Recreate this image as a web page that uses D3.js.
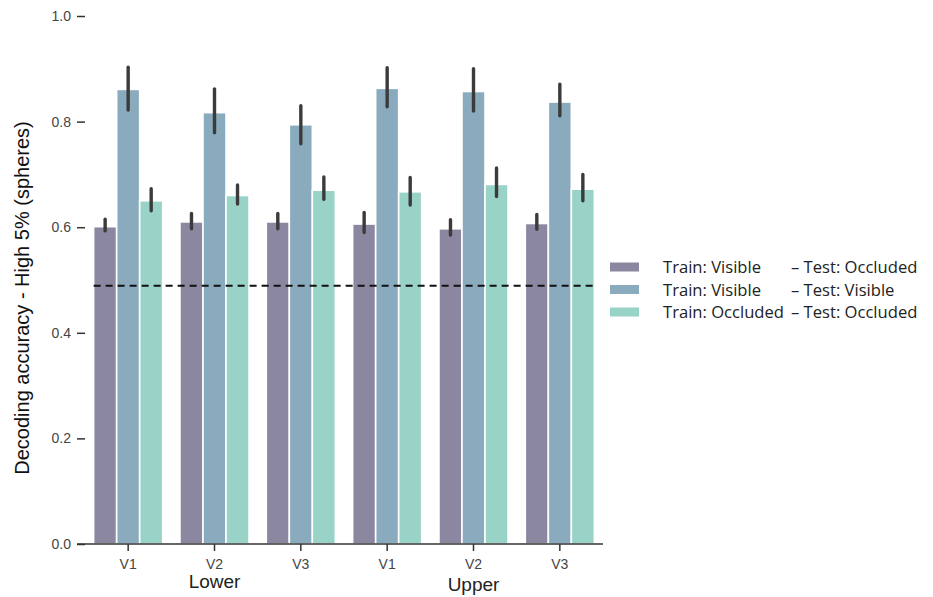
<!DOCTYPE html>
<html>
<head>
<meta charset="utf-8">
<script src="https://cdn.jsdelivr.net/npm/d3@7"></script>
<style>
  body { margin: 0; background: #fff; }
  svg { display: block; }
</style>
</head>
<body>
<svg id="chart" width="933" height="597"></svg>
<script>
// Regions of interest within each visual-field half
const areas = ["V1", "V2", "V3", "V1", "V2", "V3"];
const halves = ["Lower", "Upper"];
const trainLabels = ["Train: Visible", "Train: Visible", "Train: Occluded"];
const testLabels = ["– Test: Occluded", "– Test: Visible", "– Test: Occluded"];
const colors = ["#8b87a0", "#8aabbe", "#99d2c7"];

// Mean decoding accuracy per condition, one value per area (Lower V1..V3, Upper V1..V3)
const visOcc   = [0.601, 0.610, 0.610, 0.606, 0.597, 0.607];
const visVis   = [0.861, 0.817, 0.794, 0.863, 0.857, 0.837];
const occOcc   = [0.650, 0.660, 0.670, 0.667, 0.681, 0.672];
// 95% confidence intervals (low, high)
const visOccLo = [0.593, 0.597, 0.597, 0.590, 0.585, 0.596];
const visOccHi = [0.615, 0.626, 0.626, 0.628, 0.614, 0.624];
const visVisLo = [0.822, 0.779, 0.758, 0.828, 0.820, 0.811];
const visVisHi = [0.903, 0.862, 0.830, 0.902, 0.900, 0.871];
const occOccLo = [0.631, 0.644, 0.653, 0.642, 0.658, 0.650];
const occOccHi = [0.673, 0.680, 0.695, 0.694, 0.712, 0.700];
const chance = 0.489;
const yTicks = [0.0, 0.2, 0.4, 0.6, 0.8, 1.0];

const means = [visOcc, visVis, occOcc];
const lows = [visOccLo, visVisLo, occOccLo];
const highs = [visOccHi, visVisHi, occOccHi];

const svg = d3.select("#chart");
const plotLeft = 85, plotRight = 603, plotTop = 16, plotBottom = 544;
const sans = "Liberation Sans, Arial, sans-serif";

const x = d3.scaleBand().domain(d3.range(areas.length)).range([plotLeft, plotRight]);
const inner = d3.scaleBand().domain(d3.range(means.length))
  .range([x.bandwidth() * 0.1, x.bandwidth() * 0.9]);
const y = d3.scaleLinear().domain([0, 1]).range([plotBottom, plotTop]);

// Bars
const rows = [];
means.forEach((arr, c) => arr.forEach((v, i) => rows.push({ c, i, v, lo: lows[c][i], hi: highs[c][i] })));

svg.append("g").selectAll("rect").data(rows).join("rect")
  .attr("x", d => x(d.i) + inner(d.c))
  .attr("y", d => y(d.v))
  .attr("width", inner.bandwidth())
  .attr("height", d => y(0) - y(d.v))
  .attr("fill", d => colors[d.c])
  .attr("stroke", "#fff")
  .attr("stroke-width", 1.6);

// Error bars
svg.append("g").selectAll("line").data(rows).join("line")
  .attr("x1", d => x(d.i) + inner(d.c) + inner.bandwidth() / 2)
  .attr("x2", d => x(d.i) + inner(d.c) + inner.bandwidth() / 2)
  .attr("y1", d => y(d.lo))
  .attr("y2", d => y(d.hi))
  .attr("stroke", "#3b3b3b")
  .attr("stroke-width", 3.4)
  .attr("stroke-linecap", "round");

// Chance level
svg.append("line")
  .attr("x1", x(0) + inner(0))
  .attr("x2", x(areas.length - 1) + inner(2) + inner.bandwidth())
  .attr("y1", y(chance)).attr("y2", y(chance))
  .attr("stroke", "#111").attr("stroke-width", 2)
  .attr("stroke-dasharray", "7,5");

// Y axis (ticks only, no spine)
const yAxis = svg.append("g").attr("transform", `translate(${plotLeft},0)`)
  .call(d3.axisLeft(y).tickValues(yTicks).tickFormat(d3.format(".1f")).tickSize(8).tickPadding(6));
yAxis.select(".domain").remove();
yAxis.selectAll("line").attr("stroke", "#333").attr("stroke-width", 1.5);
yAxis.selectAll("text").attr("fill", "#444").style("font-family", sans).style("font-size", "14px");

// X axis
const xAxis = svg.append("g").attr("transform", `translate(0,${plotBottom})`)
  .call(d3.axisBottom(x).tickFormat(i => areas[i]).tickSize(7).tickPadding(8));
xAxis.select(".domain").attr("d", `M${plotLeft - 8},0H${plotRight}`).attr("stroke", "#333").attr("stroke-width", 1.5);
xAxis.selectAll("line").attr("stroke", "#333").attr("stroke-width", 1.5);
xAxis.selectAll("text").attr("fill", "#444").style("font-family", sans).style("font-size", "14px");

// Half labels under the middle area of each half
halves.forEach((h, k) => {
  svg.append("text")
    .attr("x", x(k * 3 + 1) + x.bandwidth() / 2)
    .attr("y", k === 0 ? 588 : 591)
    .attr("text-anchor", "middle")
    .attr("fill", "#222")
    .style("font-family", sans)
    .style("font-size", "19px")
    .text(h);
});

// Y axis title
svg.append("text")
  .attr("transform", "translate(29,298) rotate(-90)")
  .attr("text-anchor", "middle")
  .attr("fill", "#111")
  .style("font-family", sans)
  .style("font-size", "20px")
  .text("Decoding accuracy - High 5% (spheres)");

// Legend
const lg = svg.append("g").attr("transform", "translate(610,267)");
trainLabels.forEach((t, k) => {
  const row = lg.append("g").attr("transform", `translate(0,${k * 22.5})`);
  row.append("rect").attr("x", 0).attr("y", -4.5).attr("width", 29).attr("height", 9).attr("fill", colors[k]);
  row.append("text").attr("x", 53).attr("y", 6).attr("fill", "#222")
    .style("font-family", "Open Sans, sans-serif").style("font-size", "16.6px").text(t);
  row.append("text").attr("x", 181).attr("y", 6).attr("fill", "#222")
    .style("font-family", "Open Sans, sans-serif").style("font-size", "16.6px").text(testLabels[k]);
});
</script>
</body>
</html>
